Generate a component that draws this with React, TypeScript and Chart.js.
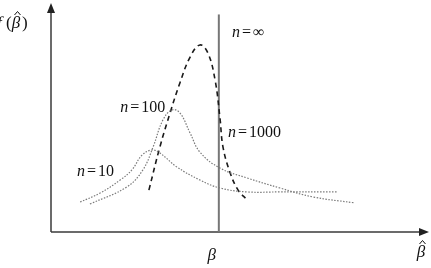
import React, { useEffect, useRef } from "react";
import { Chart, registerables } from "chart.js";

Chart.register(...registerables);

// Sampling distributions of the estimator (x = beta-hat, y = density, arbitrary units)
const n10X = [0.77, 1.3, 1.83, 2.14, 2.41, 2.67, 2.88, 3.33, 3.94, 4.47, 5.19, 6.06, 7.57];
const n10Y = [0.131, 0.17, 0.227, 0.271, 0.336, 0.358, 0.345, 0.284, 0.227, 0.192, 0.175, 0.175, 0.175];

const n100X = [1.03, 2.01, 2.43, 2.7, 2.96, 3.2, 3.41, 3.68, 3.94, 4.47, 5.19, 6.06, 6.93, 8.04];
const n100Y = [0.122, 0.197, 0.271, 0.371, 0.489, 0.533, 0.52, 0.432, 0.349, 0.279, 0.236, 0.192, 0.153, 0.127];

const n1000X = [2.59, 2.88, 3.15, 3.41, 3.68, 3.94, 4.15, 4.34, 4.47, 4.55, 4.74, 4.95, 5.19];
const n1000Y = [0.183, 0.371, 0.52, 0.651, 0.764, 0.817, 0.782, 0.664, 0.498, 0.371, 0.258, 0.183, 0.14];

const betaTrue = 4.44;
const nInfTop = 0.95;

const curveNames = ["10", "100", "1000", "\u221e"];
const labelAnchorX = [0.69, 1.83, 4.68, 4.79];
const labelAnchorY = [0.262, 0.541, 0.432, 0.869];

const xMax = 10;
const yMax = 1;

const SERIF = "'Liberation Serif', 'Times New Roman', serif";

const toPts = (xs: number[], ys: number[]) => xs.map((x, i) => ({ x, y: ys[i] }));

const decorPlugin = {
  id: "decor",
  beforeDatasetsDraw(chart: any) {
    const { ctx, chartArea } = chart;
    const { left, right, top, bottom } = chartArea;
    ctx.save();
    ctx.strokeStyle = "#3a3a3a";
    ctx.fillStyle = "#222";
    ctx.lineWidth = 1.5;
    // y axis
    ctx.beginPath();
    ctx.moveTo(left, bottom);
    ctx.lineTo(left, top + 8);
    ctx.stroke();
    ctx.beginPath();
    ctx.moveTo(left, top);
    ctx.lineTo(left - 4, top + 10);
    ctx.lineTo(left + 4, top + 10);
    ctx.closePath();
    ctx.fill();
    // x axis
    ctx.beginPath();
    ctx.moveTo(left, bottom);
    ctx.lineTo(right - 8, bottom);
    ctx.stroke();
    ctx.beginPath();
    ctx.moveTo(right, bottom);
    ctx.lineTo(right - 10, bottom - 4);
    ctx.lineTo(right - 10, bottom + 4);
    ctx.closePath();
    ctx.fill();
    ctx.restore();
  },
  afterDraw(chart: any) {
    const { ctx, chartArea, scales } = chart;
    const xs = scales.x;
    const ys = scales.y;
    ctx.save();
    ctx.fillStyle = "#111";
    ctx.textBaseline = "middle";
    ctx.textAlign = "left";
    curveNames.forEach((name, i) => {
      let px = xs.getPixelForValue(labelAnchorX[i]);
      const py = ys.getPixelForValue(labelAnchorY[i]);
      ctx.font = "italic 16px " + SERIF;
      ctx.fillText("n", px, py);
      px += ctx.measureText("n").width + 2;
      ctx.font = "16px " + SERIF;
      ctx.fillText("=", px, py);
      px += ctx.measureText("=").width + 2;
      ctx.fillText(name, px, py);
    });
    const drawBetaHat = (cx: number, cy: number) => {
      ctx.font = "italic 17px " + SERIF;
      ctx.textAlign = "center";
      ctx.fillText("\u03b2", cx, cy);
      ctx.save();
      ctx.strokeStyle = "#111";
      ctx.lineWidth = 1;
      ctx.beginPath();
      ctx.moveTo(cx - 1.5, cy - 9);
      ctx.lineTo(cx + 1.5, cy - 12.5);
      ctx.lineTo(cx + 4.5, cy - 9);
      ctx.stroke();
      ctx.restore();
    };
    // f(beta-hat), partially cut at left edge
    ctx.font = "italic 17px " + SERIF;
    ctx.textAlign = "left";
    ctx.fillText("f", -3, 24);
    ctx.font = "17px " + SERIF;
    ctx.fillText("(", 6, 24);
    drawBetaHat(16, 24);
    ctx.font = "17px " + SERIF;
    ctx.textAlign = "left";
    ctx.fillText(")", 22, 24);
    // beta under the axis
    ctx.font = "italic 17px " + SERIF;
    ctx.textAlign = "center";
    ctx.fillText("\u03b2", xs.getPixelForValue(betaTrue) - 7, chartArea.bottom + 24);
    // beta-hat at the right end
    drawBetaHat(chartArea.right - 8, chartArea.bottom + 21);
    ctx.restore();
  },
};

export default function App() {
  const ref = useRef<HTMLCanvasElement | null>(null);
  useEffect(() => {
    if (!ref.current) return;
    const chart = new Chart(ref.current, {
      type: "line",
      data: {
        datasets: [
          {
            label: "n=10",
            data: toPts(n10X, n10Y),
            borderColor: "#7a7a7a",
            borderWidth: 1.2,
            borderDash: [1.5, 1.5],
            tension: 0.4,
            pointRadius: 0,
            fill: false,
          },
          {
            label: "n=100",
            data: toPts(n100X, n100Y),
            borderColor: "#7a7a7a",
            borderWidth: 1.2,
            borderDash: [1.5, 1.5],
            tension: 0.4,
            pointRadius: 0,
            fill: false,
          },
          {
            label: "n=1000",
            data: toPts(n1000X, n1000Y),
            borderColor: "#1a1a1a",
            borderWidth: 1.6,
            borderDash: [5, 4],
            tension: 0.4,
            pointRadius: 0,
            fill: false,
          },
          {
            label: "n=inf",
            data: [
              { x: betaTrue, y: 0 },
              { x: betaTrue, y: nInfTop },
            ],
            borderColor: "#777777",
            borderWidth: 2,
            pointRadius: 0,
            fill: false,
          },
        ],
      },
      options: {
        responsive: false,
        animation: false,
        devicePixelRatio: 1,
        layout: { padding: { left: 51, right: 2, top: 3, bottom: 36 } },
        plugins: { legend: { display: false }, tooltip: { enabled: false } },
        scales: {
          x: { type: "linear", min: 0, max: xMax, display: false },
          y: { type: "linear", min: 0, max: yMax, display: false },
        },
      },
      plugins: [decorPlugin],
    });
    return () => chart.destroy();
  }, []);
  return (
    <div style={{ position: "fixed", left: 0, top: 0, width: 431, height: 268, background: "#fff" }}>
      <canvas ref={ref} width={431} height={268} style={{ width: 431, height: 268, display: "block" }} />
    </div>
  );
}
